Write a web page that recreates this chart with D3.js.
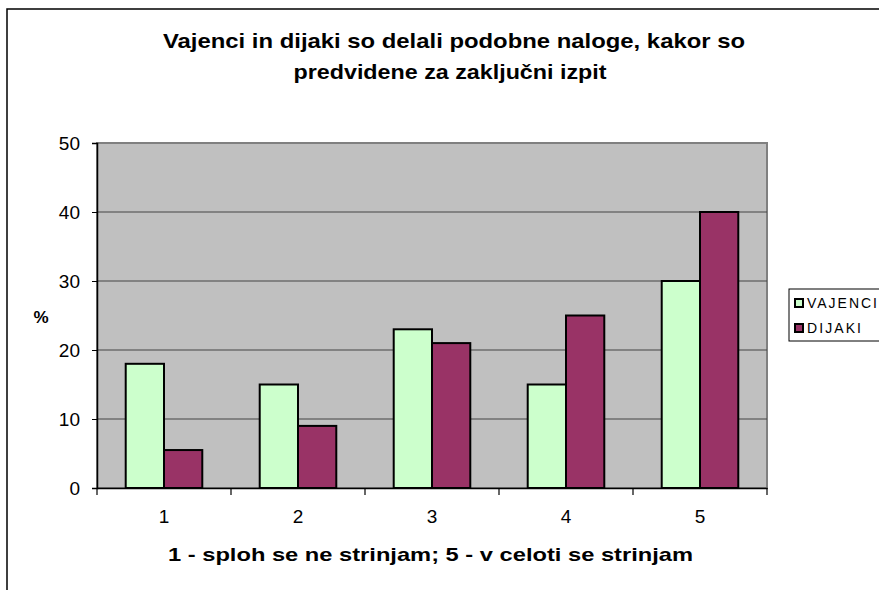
<!DOCTYPE html>
<html>
<head>
<meta charset="utf-8">
<script src="https://cdn.jsdelivr.net/npm/d3@7"></script>
<style>
  body { margin: 0; background: #fff; }
  svg { display: block; font-family: "Liberation Sans", Arial, sans-serif; }
</style>
</head>
<body>
<svg width="879" height="590"></svg>
<script>
const categories = ['1', '2', '3', '4', '5']
const seriesNames = ['VAJENCI', 'DIJAKI']
const vajValues = [18, 15, 23, 15, 30]
const dijValues = [5.5, 9, 21, 25, 40]
const yTicks = [0, 10, 20, 30, 40, 50]
const colors = ['#CCFFCC', '#993366']
const titleLines = ['Vajenci in dijaki so delali podobne naloge, kakor so', 'predvidene za zaključni izpit']
const xTitle = '1 - sploh se ne strinjam; 5 - v celoti se strinjam'
const yTitle = '%'

const series = [vajValues, dijValues]
const dim = { left: 97, right: 767, top: 143, bottom: 488 }
const svg = d3.select('svg')

// outer chart border
svg.append('path')
  .attr('d', 'M7,590 V9 H879')
  .attr('fill', 'none')
  .attr('stroke', '#000')
  .attr('stroke-width', 1.5)

// title (stretched like the original narrow bold face)
const titleSpans = [{ cx: 454, w: 582, y: 48 }, { cx: 450, w: 313, y: 79 }]
svg.append('g')
  .selectAll('text')
  .data(titleLines)
  .join('text')
    .attr('x', (d, i) => titleSpans[i].cx - titleSpans[i].w / 2)
    .attr('y', (d, i) => titleSpans[i].y)
    .attr('textLength', (d, i) => titleSpans[i].w)
    .attr('lengthAdjust', 'spacingAndGlyphs')
    .attr('font-size', 21)
    .attr('font-weight', 'bold')
    .text(d => d)

const x0 = d3.scaleBand()
  .domain(categories)
  .range([dim.left, dim.right])

const x1 = d3.scaleBand()
  .domain(seriesNames)
  .range([0, x0.bandwidth()])
  .paddingOuter(0.75)
  .paddingInner(0)

const y = d3.scaleLinear()
  .domain([0, 50])
  .range([dim.bottom, dim.top])

// plot area
svg.append('rect')
  .attr('x', dim.left)
  .attr('y', dim.top)
  .attr('width', dim.right - dim.left)
  .attr('height', dim.bottom - dim.top)
  .attr('fill', '#C0C0C0')
  .attr('stroke', '#808080')
  .attr('stroke-width', 2)

// grid
svg.append('g')
  .selectAll('line')
  .data(yTicks.filter(d => d > 0 && d < 50))
  .join('line')
    .attr('x1', dim.left)
    .attr('x2', dim.right)
    .attr('y1', d => y(d))
    .attr('y2', d => y(d))
    .attr('stroke', '#444')
    .attr('stroke-width', 1.2)

// bars
svg.append('g')
  .selectAll('g')
  .data(categories)
  .join('g')
    .attr('transform', d => `translate(${x0(d)},0)`)
  .selectAll('rect')
  .data((d, i) => seriesNames.map((s, j) => ({ s, v: series[j][i], c: colors[j] })))
  .join('rect')
    .attr('x', d => x1(d.s))
    .attr('y', d => y(d.v))
    .attr('width', x1.bandwidth())
    .attr('height', d => y(0) - y(d.v))
    .attr('fill', d => d.c)
    .attr('stroke', '#000')
    .attr('stroke-width', 2)

// y axis
const yAxis = svg.append('g')
  .attr('transform', `translate(${dim.left},0)`)
  .call(d3.axisLeft(y).tickValues(yTicks).tickSize(5).tickPadding(12))
yAxis.select('.domain').attr('stroke', '#000').attr('stroke-width', 1.5)
yAxis.selectAll('.tick line').attr('stroke', '#000')
yAxis.selectAll('.tick text')
  .attr('font-size', 19)
  .attr('font-family', '"Liberation Sans", Arial, sans-serif')
  .attr('fill', '#000')

// x axis
const xAxis = svg.append('g')
  .attr('transform', `translate(0,${dim.bottom})`)
  .call(d3.axisBottom(x0).tickSize(0).tickPadding(22))
xAxis.select('.domain').attr('stroke', '#000').attr('stroke-width', 1.5)
xAxis.selectAll('.tick text')
  .attr('font-size', 19)
  .attr('font-family', '"Liberation Sans", Arial, sans-serif')
  .attr('fill', '#000')

// category separators
svg.append('g')
  .selectAll('line')
  .data(categories.concat(['end']))
  .join('line')
    .attr('x1', (d, i) => dim.left + i * x0.bandwidth())
    .attr('x2', (d, i) => dim.left + i * x0.bandwidth())
    .attr('y1', dim.bottom)
    .attr('y2', dim.bottom + 7)
    .attr('stroke', '#000')
    .attr('stroke-width', 1.2)

// axis titles
svg.append('text')
  .attr('x', 168)
  .attr('y', 561)
  .attr('textLength', 525)
  .attr('lengthAdjust', 'spacingAndGlyphs')
  .attr('font-size', 19)
  .attr('font-weight', 'bold')
  .text(xTitle)

svg.append('text')
  .attr('x', 41)
  .attr('y', 323)
  .attr('text-anchor', 'middle')
  .attr('font-size', 17)
  .attr('font-weight', 'bold')
  .text(yTitle)

// legend
const legend = svg.append('g').attr('transform', 'translate(789,289)')
legend.append('rect')
  .attr('width', 100)
  .attr('height', 52)
  .attr('fill', '#fff')
  .attr('stroke', '#000')
  .attr('stroke-width', 1)
const legendWidths = [70, 54]
const items = legend.selectAll('g.item')
  .data(seriesNames)
  .join('g')
    .attr('class', 'item')
    .attr('transform', (d, i) => `translate(6,${10 + i * 25})`)
items.append('rect')
  .attr('width', 8)
  .attr('height', 8)
  .attr('fill', (d, i) => colors[i])
  .attr('stroke', '#000')
  .attr('stroke-width', 2)
items.append('text')
  .attr('x', 12)
  .attr('y', 9)
  .attr('font-size', 14)
  .attr('textLength', (d, i) => legendWidths[i])
  .attr('lengthAdjust', 'spacing')
  .text(d => d)
</script>
</body>
</html>
